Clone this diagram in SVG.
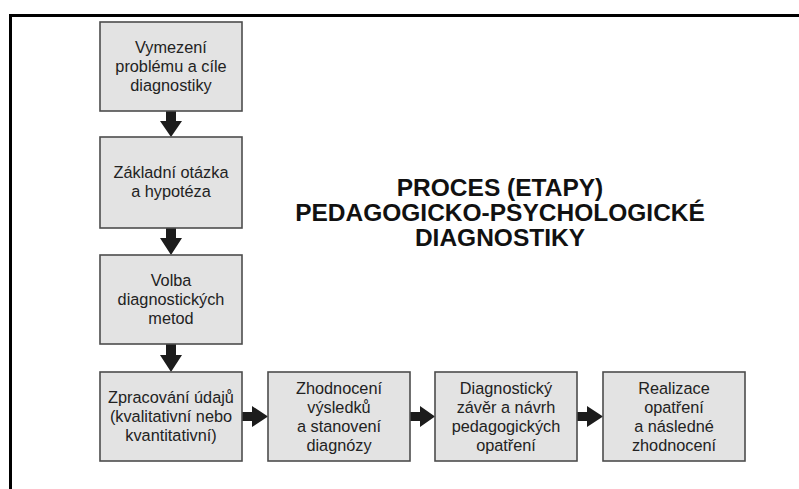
<svg xmlns="http://www.w3.org/2000/svg" width="799" height="489" viewBox="0 0 799 489">
<style>
.box{fill:#e3e3e3;stroke:#4d4d4d;stroke-width:1.6}
.t{font-family:"Liberation Sans",Arial,sans-serif;font-size:16.3px;fill:#222;text-anchor:middle}
.title{font-family:"Liberation Sans",Arial,sans-serif;font-size:24.5px;font-weight:bold;fill:#111;text-anchor:middle}
.arr{fill:#1c1c1c}
.frame{fill:none;stroke:#000;stroke-width:3}
</style>
<rect width="799" height="489" fill="#fff"/>
<path class="frame" d="M10.5,489 V15.5 H799"/>
<g id="title">
<text class="title" x="500" y="196">PROCES (ETAPY)</text>
<text class="title" x="500" y="221">PEDAGOGICKO-PSYCHOLOGICKÉ</text>
<text class="title" x="500" y="246">DIAGNOSTIKY</text>
</g>
<g id="connectors">
<polygon class="arr" points="166,111 176,111 176,121 182,121 171,137 160,121 166,121"/>
<polygon class="arr" points="166,228 176,228 176,238 182,238 171,255 160,238 166,238"/>
<polygon class="arr" points="166,344 176,344 176,355 182,355 171,372 160,355 166,355"/>
<polygon class="arr" points="242,412 252,412 252,406 268,416.5 252,427 252,421 242,421"/>
<polygon class="arr" points="410,412 420,412 420,406 435,416.5 420,427 420,421 410,421"/>
<polygon class="arr" points="577,412 587,412 587,406 603,416.5 587,427 587,421 577,421"/>
</g>
<g id="n1">
<rect class="box" x="100" y="22" width="142" height="89"/>
<text class="t" x="171" y="53">Vymezení</text>
<text class="t" x="171" y="72">problému a cíle</text>
<text class="t" x="171" y="91">diagnostiky</text>
</g>
<g id="n2">
<rect class="box" x="100" y="137" width="142" height="91"/>
<text class="t" x="171" y="178">Základní otázka</text>
<text class="t" x="171" y="197">a hypotéza</text>
</g>
<g id="n3">
<rect class="box" x="100" y="255" width="142" height="89"/>
<text class="t" x="171" y="286">Volba</text>
<text class="t" x="171" y="305">diagnostických</text>
<text class="t" x="171" y="324">metod</text>
</g>
<g id="n4">
<rect class="box" x="100" y="372" width="142" height="89"/>
<text class="t" x="171" y="403">Zpracování údajů</text>
<text class="t" x="171" y="422">(kvalitativní nebo</text>
<text class="t" x="171" y="441">kvantitativní)</text>
</g>
<g id="n5">
<rect class="box" x="268" y="372" width="142" height="89"/>
<text class="t" x="339" y="393.5">Zhodnocení</text>
<text class="t" x="339" y="412.5">výsledků</text>
<text class="t" x="339" y="431.5">a stanovení</text>
<text class="t" x="339" y="450.5">diagnózy</text>
</g>
<g id="n6">
<rect class="box" x="435" y="372" width="142" height="89"/>
<text class="t" x="506" y="393.5">Diagnostický</text>
<text class="t" x="506" y="412.5">závěr a návrh</text>
<text class="t" x="506" y="431.5">pedagogických</text>
<text class="t" x="506" y="450.5">opatření</text>
</g>
<g id="n7">
<rect class="box" x="603" y="372" width="142" height="89"/>
<text class="t" x="674" y="393.5">Realizace</text>
<text class="t" x="674" y="412.5">opatření</text>
<text class="t" x="674" y="431.5">a následné</text>
<text class="t" x="674" y="450.5">zhodnocení</text>
</g>
</svg>
